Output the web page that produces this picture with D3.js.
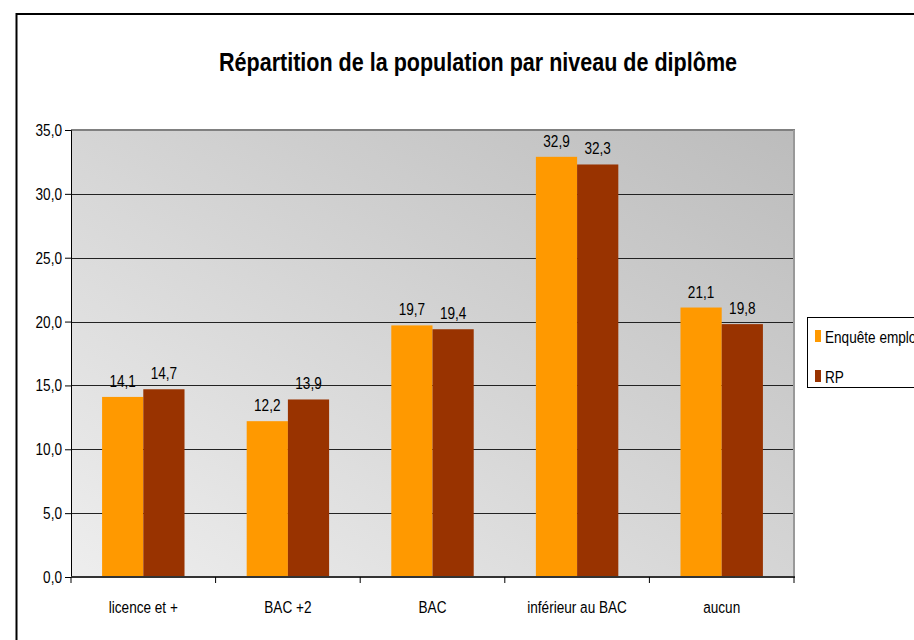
<!DOCTYPE html>
<html>
<head>
    <meta charset="utf-8">
    <title>Répartition de la population par niveau de diplôme</title>
    <script src="https://d3js.org/d3.v7.min.js"></script>
    <style>
        body { margin: 0; background: #fff; }
        svg { font-family: "Liberation Sans", Arial, sans-serif; }
    </style>
</head>
<body>
<script>

var categories = ["licence et +", "BAC +2", "BAC", "inférieur au BAC", "aucun"];
var seriesNames = ["Enquête emploi", "RP"];
var enqueteValues = [14.1, 12.2, 19.7, 32.9, 21.1];
var rpValues = [14.7, 13.9, 19.4, 32.3, 19.8];
var yTicks = [0, 5, 10, 15, 20, 25, 30, 35];

var colors = ["#ff9900", "#993300"];
var width = 914, height = 640;
var plot = { left: 71, right: 794, top: 130, bottom: 577 };
var squeeze = 0.8;   // the original font renders narrow

var svg = d3.select("body").append("svg")
    .attr("width", width)
    .attr("height", height);

// helper: text drawn narrow
function label(g, x, y, txt, anchor, size) {
    return g.append("text")
        .attr("transform", "translate(" + x + "," + y + ") scale(" + squeeze + ",1)")
        .attr("text-anchor", anchor)
        .attr("font-size", size)
        .attr("fill", "#000")
        .text(txt);
}

// outer frame
svg.append("rect")
    .attr("x", 16.5).attr("y", 14)
    .attr("width", width).attr("height", height)
    .attr("fill", "#fff")
    .attr("stroke", "#000")
    .attr("stroke-width", 2);

// title
svg.append("text")
    .attr("x", 478).attr("y", 71)
    .attr("text-anchor", "middle")
    .attr("font-size", 26)
    .attr("font-weight", "bold")
    .attr("textLength", 518)
    .attr("lengthAdjust", "spacingAndGlyphs")
    .text("Répartition de la population par niveau de diplôme");

// background gradient
var grad = svg.append("defs").append("linearGradient")
    .attr("id", "bg")
    .attr("x1", 0).attr("y1", 1).attr("x2", 1).attr("y2", 0);
grad.append("stop").attr("offset", "0%").attr("stop-color", "#eeeeee");
grad.append("stop").attr("offset", "100%").attr("stop-color", "#bcbcbc");

var x = d3.scaleBand()
    .domain(categories)
    .range([plot.left, plot.right])
    .paddingInner(0.43)
    .paddingOuter(0.215);

var xs = d3.scaleBand()
    .domain(seriesNames)
    .range([0, x.bandwidth()]);

var y = d3.scaleLinear()
    .domain([0, 35])
    .range([plot.bottom, plot.top]);

svg.append("rect")
    .attr("x", plot.left).attr("y", plot.top)
    .attr("width", plot.right - plot.left)
    .attr("height", plot.bottom - plot.top)
    .attr("fill", "url(#bg)");

// gridlines
svg.selectAll(".grid")
    .data(yTicks.filter(function (d) { return d > 0 && d < 35; }))
    .enter().append("line")
    .attr("x1", plot.left).attr("x2", plot.right)
    .attr("y1", function (d) { return Math.round(y(d)) + 0.5; })
    .attr("y2", function (d) { return Math.round(y(d)) + 0.5; })
    .attr("stroke", "#222")
    .attr("stroke-width", 1);

// plot border top / right
svg.append("line")
    .attr("x1", plot.left).attr("x2", plot.right + 1)
    .attr("y1", y(35)).attr("y2", y(35))
    .attr("stroke", "#808080").attr("stroke-width", 2);
svg.append("line")
    .attr("x1", plot.right).attr("x2", plot.right)
    .attr("y1", y(35)).attr("y2", plot.bottom)
    .attr("stroke", "#999").attr("stroke-width", 2);

// bars
var data = categories.map(function (c, i) {
    return { cat: c, values: [enqueteValues[i], rpValues[i]] };
});

var groups = svg.selectAll(".grp")
    .data(data)
    .enter().append("g")
    .attr("transform", function (d) { return "translate(" + x(d.cat) + ",0)"; });

groups.selectAll("rect")
    .data(function (d) { return d.values; })
    .enter().append("rect")
    .attr("x", function (d, i) { return xs(seriesNames[i]); })
    .attr("y", function (d) { return y(d); })
    .attr("width", xs.bandwidth())
    .attr("height", function (d) { return y(0) - y(d); })
    .attr("fill", function (d, i) { return colors[i]; });

// value labels
groups.each(function (d) {
    var g = d3.select(this);
    d.values.forEach(function (v, i) {
        label(g, xs(seriesNames[i]) + xs.bandwidth() / 2, y(v) - 10,
            v.toFixed(1).replace(".", ","), "middle", 17);
    });
});

// y axis
var yAxis = d3.axisLeft(y)
    .tickValues(yTicks)
    .tickSize(6)
    .tickFormat(function (d) { return d.toFixed(1).replace(".", ","); });
var ya = svg.append("g")
    .attr("transform", "translate(" + plot.left + ",0)")
    .call(yAxis);
ya.select(".domain").attr("stroke", "#000");
ya.selectAll(".tick line").attr("stroke", "#000");
ya.selectAll(".tick text").remove();
yTicks.forEach(function (t) {
    label(svg, plot.left - 9, y(t) + 6, t.toFixed(1).replace(".", ","), "end", 17);
});

// x axis
var xa = svg.append("g")
    .attr("transform", "translate(0," + plot.bottom + ")");
xa.append("line")
    .attr("x1", plot.left).attr("x2", plot.right + 1)
    .attr("y1", 0).attr("y2", 0)
    .attr("stroke", "#333").attr("stroke-width", 2);
var edges = categories.map(function (c) { return x(c) - x.step() * x.paddingInner() / 2; });
edges.push(plot.right);
xa.selectAll(".xt")
    .data(edges)
    .enter().append("line")
    .attr("x1", function (d) { return d; }).attr("x2", function (d) { return d; })
    .attr("y1", 0).attr("y2", 6)
    .attr("stroke", "#000");
categories.forEach(function (c) {
    label(svg, x(c) + x.bandwidth() / 2, 613, c, "middle", 17);
});

// legend
var lg = svg.append("g").attr("transform", "translate(807,317)");
lg.append("rect")
    .attr("x", 0.5).attr("y", 0.5)
    .attr("width", 200).attr("height", 70)
    .attr("fill", "#fff").attr("stroke", "#000");
seriesNames.forEach(function (s, i) {
    lg.append("rect")
        .attr("x", 8).attr("y", 13 + i * 40)
        .attr("width", 6).attr("height", 12)
        .attr("fill", colors[i]);
    label(lg, 18, 26 + i * 40, s, "start", 17);
});

</script>
</body>
</html>
